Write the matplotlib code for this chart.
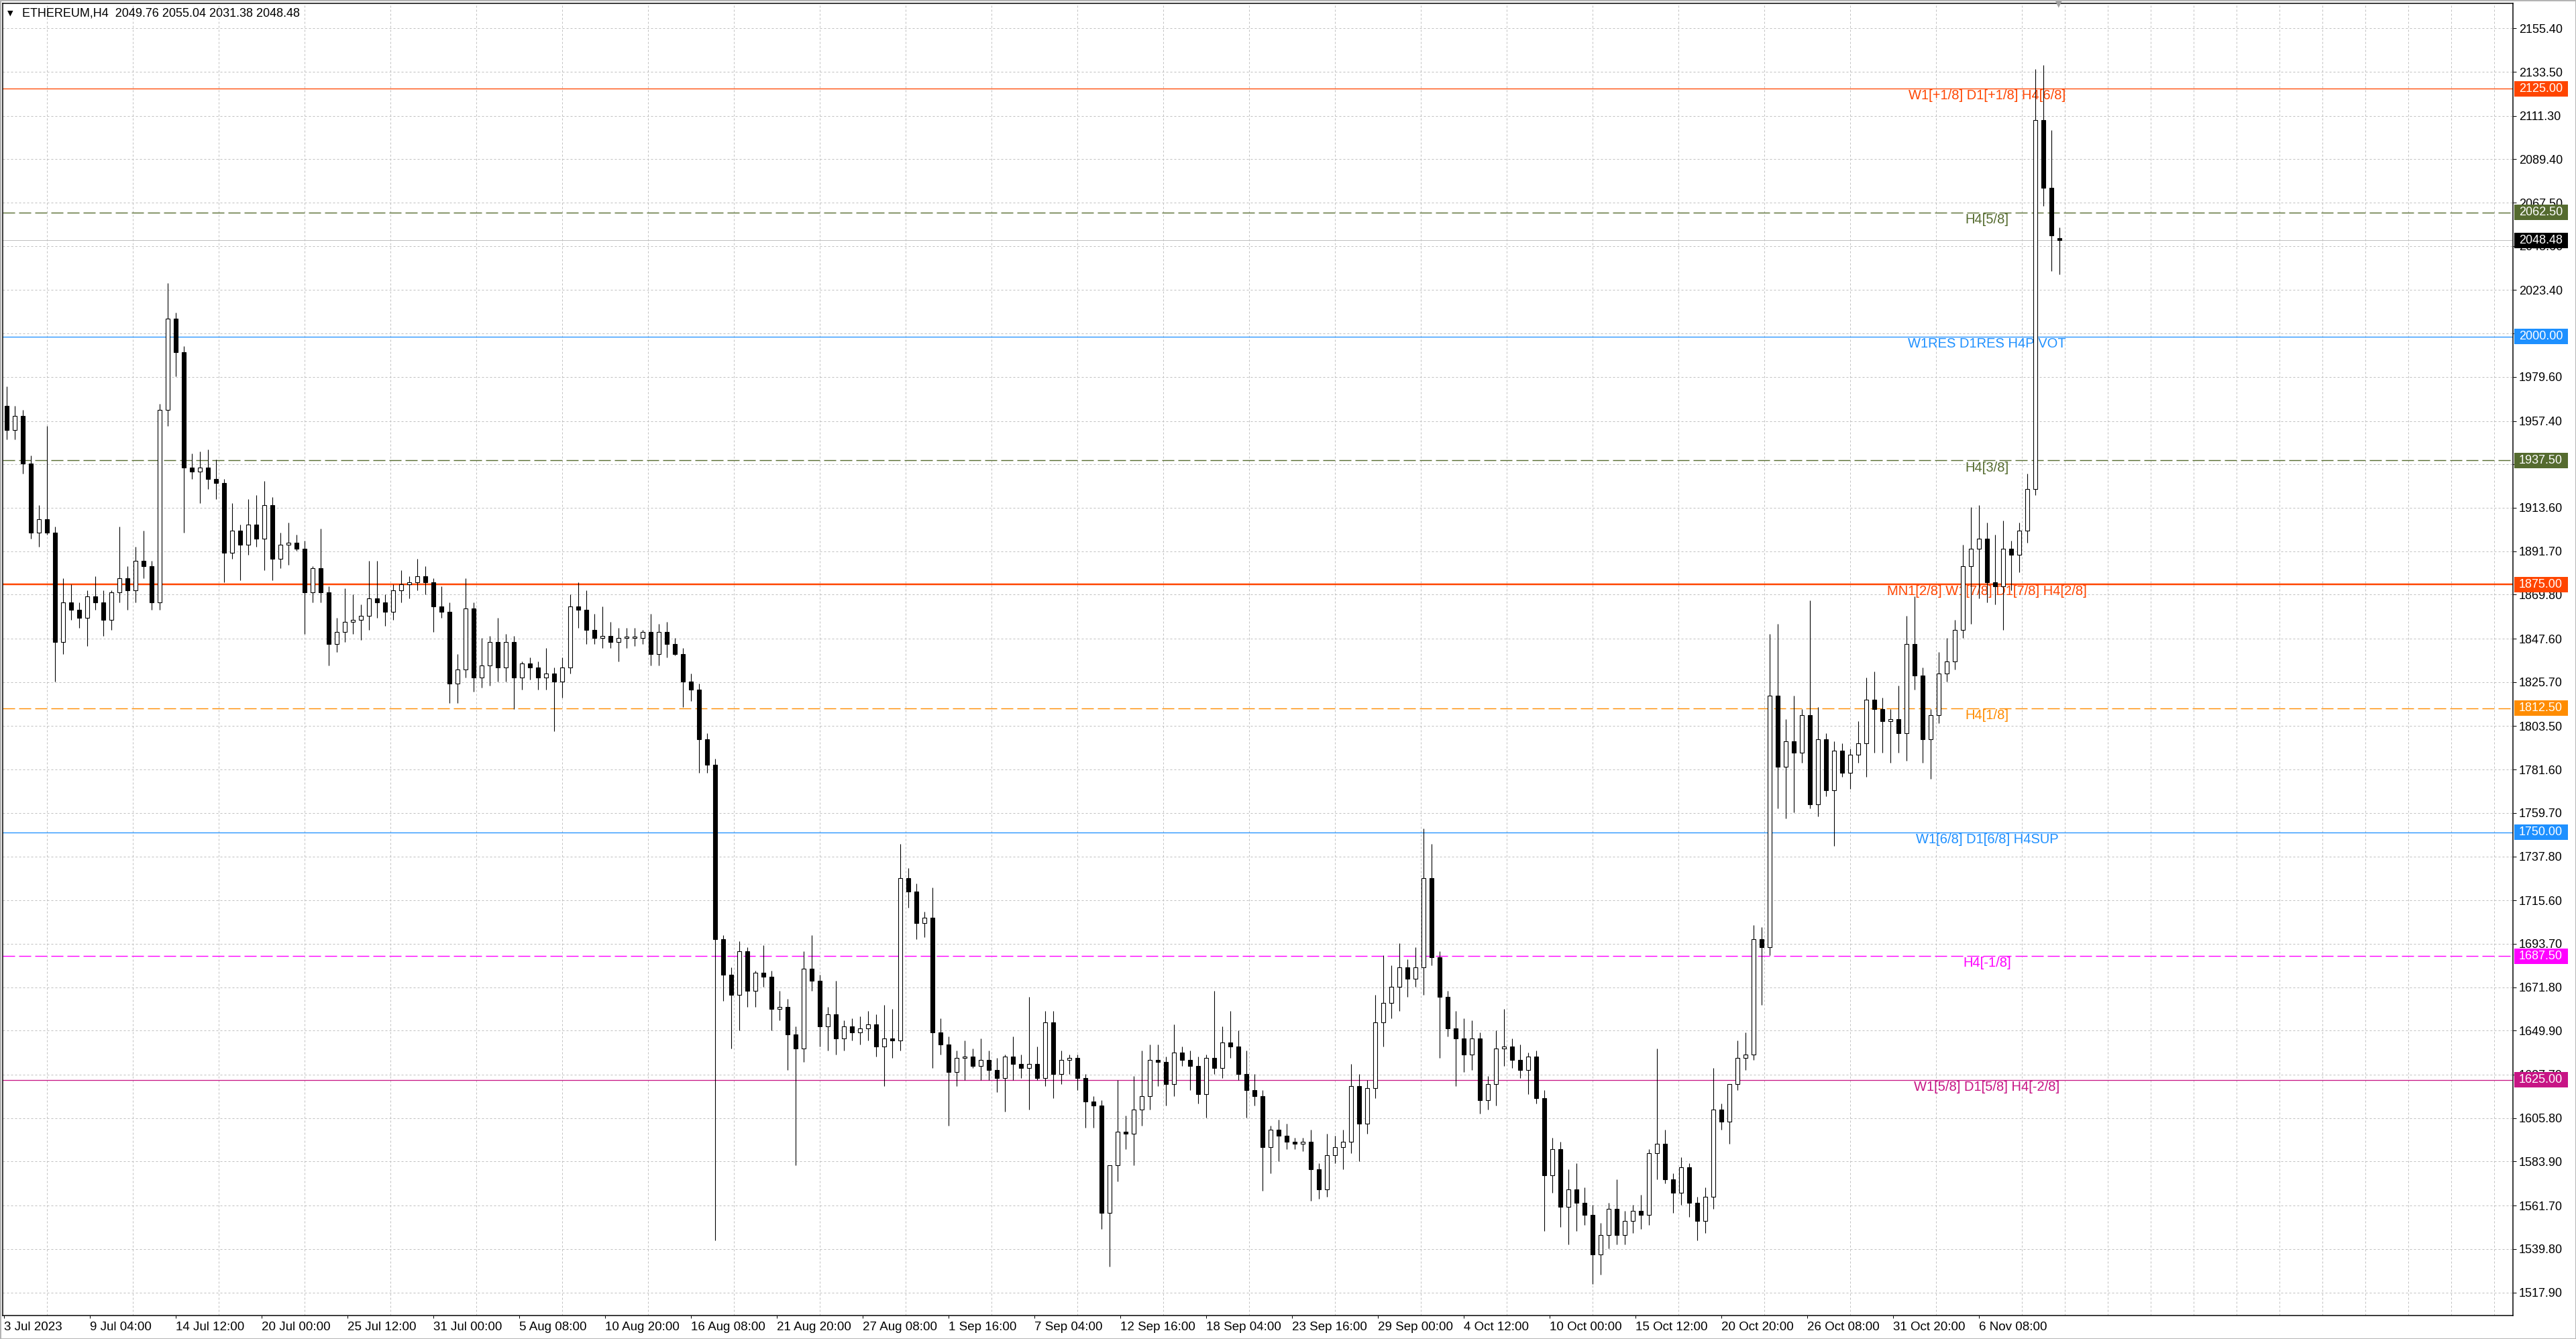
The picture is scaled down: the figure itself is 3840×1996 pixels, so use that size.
import matplotlib
matplotlib.use('Agg')
import matplotlib.pyplot as plt
from matplotlib import transforms
from matplotlib.patches import Rectangle

# ETHEREUM H4 chart, candles grouped by 12 hours (3 H4 bars each)
opens = [
    1965, 1953, 1960, 1936, 1901, 1908, 1901, 1846, 1866, 1862, 1858, 1869, 1866, 1857, 1871, 1878,
    1872, 1887, 1884, 1866, 1963, 2009, 1992, 1934, 1932, 1934, 1928, 1926, 1891, 1902, 1895, 1905,
    1898, 1915, 1888, 1895, 1896, 1893, 1871, 1883, 1871, 1845, 1851, 1856, 1857, 1859, 1868, 1866,
    1861, 1872, 1875, 1876, 1879, 1876, 1864, 1861, 1825, 1832, 1863, 1828, 1834, 1846, 1833, 1846,
    1828, 1835, 1833, 1828, 1830, 1826, 1833, 1864, 1862, 1852, 1848, 1849, 1846, 1848, 1848, 1848,
    1851, 1840, 1851, 1845, 1840, 1826, 1822, 1797, 1784, 1696, 1678, 1668, 1690, 1670, 1679, 1677,
    1661, 1662, 1648, 1641, 1681, 1675, 1652, 1658, 1646, 1652, 1649, 1651, 1653, 1642, 1646, 1645,
    1727, 1720, 1704, 1707, 1649, 1643, 1629, 1636, 1637, 1632, 1635, 1630, 1626, 1637, 1633, 1631,
    1633, 1626, 1654, 1628, 1635, 1636, 1626, 1614, 1612, 1558, 1582, 1599, 1598, 1610, 1617, 1635,
    1634, 1623, 1639, 1635, 1632, 1618, 1636, 1631, 1644, 1642, 1628, 1620, 1617, 1591, 1600, 1597,
    1594, 1593, 1594, 1580, 1570, 1587, 1591, 1594, 1622, 1603, 1621, 1654, 1664, 1672, 1682, 1676,
    1682, 1727, 1687, 1667, 1651, 1646, 1638, 1646, 1615, 1623, 1641, 1642, 1635, 1630, 1637, 1616,
    1577, 1590, 1561, 1570, 1563, 1557, 1537, 1547, 1560, 1547, 1554, 1559, 1557, 1588, 1593, 1575,
    1568, 1581, 1563, 1554, 1566, 1610, 1604, 1623, 1636, 1638, 1696, 1692, 1819, 1783, 1796, 1790,
    1809, 1764, 1797, 1771, 1791, 1780, 1789, 1795, 1817, 1812, 1806, 1807, 1800, 1845, 1829, 1797,
    1809, 1830, 1836, 1852, 1884, 1893, 1898, 1876, 1874, 1893, 1890, 1902, 1923, 2109, 2075, 2049.76,
]
highs = [
    1975, 1965, 1963, 1940, 1915, 1955, 1904, 1878, 1875, 1866, 1872, 1879, 1872, 1872, 1904, 1884,
    1894, 1902, 1887, 1966, 2027, 2012, 1995, 1941, 1942, 1943, 1938, 1928, 1916, 1905, 1918, 1920,
    1927, 1919, 1901, 1906, 1900, 1897, 1884, 1903, 1874, 1858, 1873, 1870, 1865, 1887, 1887, 1870,
    1875, 1882, 1879, 1888, 1884, 1878, 1874, 1866, 1840, 1878, 1866, 1848, 1849, 1858, 1850, 1849,
    1836, 1838, 1836, 1843, 1833, 1838, 1870, 1876, 1872, 1860, 1864, 1856, 1853, 1853, 1853, 1852,
    1860, 1855, 1856, 1848, 1843, 1830, 1825, 1800, 1787, 1698, 1682, 1695, 1692, 1680, 1693, 1680,
    1670, 1666, 1652, 1690, 1698, 1678, 1662, 1675, 1655, 1656, 1657, 1660, 1658, 1663, 1661, 1744,
    1732, 1724, 1710, 1722, 1656, 1647, 1640, 1645, 1641, 1646, 1640, 1636, 1638, 1647, 1638, 1667,
    1642, 1660, 1660, 1640, 1638, 1638, 1628, 1617, 1615, 1566, 1625, 1607, 1627, 1640, 1643, 1643,
    1637, 1653, 1642, 1640, 1637, 1638, 1670, 1652, 1660, 1650, 1640, 1628, 1620, 1602, 1605, 1603,
    1596, 1596, 1600, 1583, 1598, 1597, 1600, 1633, 1628, 1625, 1668, 1688, 1683, 1694, 1686, 1692,
    1752, 1744, 1690, 1670, 1660, 1656, 1655, 1649, 1627, 1650, 1661, 1646, 1643, 1639, 1640, 1620,
    1596, 1594, 1580, 1583, 1571, 1562, 1553, 1563, 1575, 1559, 1562, 1567, 1590, 1641, 1600, 1578,
    1586, 1583, 1566, 1571, 1631, 1613, 1623, 1645, 1649, 1703, 1702, 1850, 1855, 1807, 1819, 1812,
    1867, 1813, 1800, 1796, 1795, 1792, 1806, 1828, 1831, 1818, 1812, 1824, 1859, 1869, 1833, 1812,
    1841, 1848, 1857, 1895, 1914, 1915, 1906, 1900, 1907, 1897, 1906, 1931, 2135, 2137, 2104, 2055.04,
]
lows = [
    1948, 1948, 1931, 1898, 1894, 1900, 1826, 1840, 1857, 1853, 1844, 1862, 1849, 1852, 1866, 1862,
    1866, 1878, 1862, 1862, 1955, 1980, 1901, 1928, 1916, 1923, 1918, 1876, 1888, 1877, 1890, 1894,
    1882, 1877, 1883, 1885, 1892, 1850, 1866, 1866, 1834, 1841, 1846, 1850, 1847, 1852, 1858, 1854,
    1857, 1866, 1868, 1872, 1870, 1851, 1858, 1815, 1815, 1828, 1821, 1823, 1824, 1826, 1826, 1812,
    1822, 1827, 1822, 1822, 1801, 1818, 1830, 1853, 1845, 1845, 1843, 1843, 1836, 1843, 1844, 1845,
    1834, 1834, 1838, 1839, 1813, 1816, 1780, 1780, 1544, 1665, 1641, 1650, 1662, 1662, 1672, 1650,
    1655, 1630, 1582, 1634, 1670, 1642, 1640, 1638, 1640, 1645, 1643, 1645, 1637, 1622, 1636, 1640,
    1712, 1696, 1697, 1631, 1638, 1602, 1622, 1625, 1631, 1625, 1625, 1619, 1609, 1625, 1626, 1610,
    1625, 1622, 1616, 1623, 1628, 1620, 1601, 1601, 1550, 1531, 1574, 1590, 1582, 1602, 1610, 1622,
    1612, 1617, 1632, 1620, 1613, 1606, 1628, 1626, 1636, 1625, 1606, 1612, 1569, 1578, 1584, 1590,
    1590, 1589, 1564, 1565, 1566, 1583, 1580, 1588, 1584, 1598, 1616, 1642, 1656, 1660, 1667, 1672,
    1668, 1683, 1636, 1647, 1622, 1629, 1630, 1608, 1610, 1612, 1632, 1631, 1626, 1618, 1613, 1549,
    1568, 1551, 1542, 1549, 1552, 1522, 1527, 1540, 1542, 1542, 1548, 1550, 1552, 1575, 1573, 1558,
    1562, 1556, 1544, 1548, 1560, 1600, 1593, 1620, 1630, 1635, 1663, 1688, 1762, 1757, 1760, 1785,
    1762, 1758, 1768, 1743, 1778, 1772, 1785, 1778, 1790, 1790, 1785, 1790, 1786, 1822, 1785, 1777,
    1805, 1826, 1832, 1848, 1855, 1868, 1866, 1865, 1852, 1872, 1881, 1896, 1920, 2066, 2033, 2031.38,
]
closes = [
    1953, 1960, 1936, 1901, 1908, 1901, 1846, 1866, 1862, 1858, 1869, 1866, 1857, 1871, 1878, 1872,
    1887, 1884, 1866, 1963, 2009, 1992, 1934, 1932, 1934, 1928, 1926, 1891, 1902, 1895, 1905, 1898,
    1915, 1888, 1895, 1896, 1893, 1871, 1883, 1871, 1845, 1851, 1856, 1857, 1859, 1868, 1866, 1861,
    1872, 1875, 1876, 1879, 1876, 1864, 1861, 1825, 1832, 1863, 1828, 1834, 1846, 1833, 1846, 1828,
    1835, 1833, 1828, 1830, 1826, 1833, 1864, 1862, 1852, 1848, 1849, 1846, 1848, 1848, 1848, 1851,
    1840, 1851, 1845, 1840, 1826, 1822, 1797, 1784, 1696, 1678, 1668, 1690, 1670, 1679, 1677, 1661,
    1662, 1648, 1641, 1681, 1675, 1652, 1658, 1646, 1652, 1649, 1651, 1653, 1642, 1646, 1645, 1727,
    1720, 1704, 1707, 1649, 1643, 1629, 1636, 1637, 1632, 1635, 1630, 1626, 1637, 1633, 1631, 1633,
    1626, 1654, 1628, 1635, 1636, 1626, 1614, 1612, 1558, 1582, 1599, 1598, 1610, 1617, 1635, 1634,
    1623, 1639, 1635, 1632, 1618, 1636, 1631, 1644, 1642, 1628, 1620, 1617, 1591, 1600, 1597, 1594,
    1593, 1594, 1580, 1570, 1587, 1591, 1594, 1622, 1603, 1621, 1654, 1664, 1672, 1682, 1676, 1682,
    1727, 1687, 1667, 1651, 1646, 1638, 1646, 1615, 1623, 1641, 1642, 1635, 1630, 1637, 1616, 1577,
    1590, 1561, 1570, 1563, 1557, 1537, 1547, 1560, 1547, 1554, 1559, 1557, 1588, 1593, 1575, 1568,
    1581, 1563, 1554, 1566, 1610, 1604, 1623, 1636, 1638, 1696, 1692, 1819, 1783, 1796, 1790, 1809,
    1764, 1797, 1771, 1791, 1780, 1789, 1795, 1817, 1812, 1806, 1807, 1800, 1845, 1829, 1797, 1809,
    1830, 1836, 1852, 1884, 1893, 1898, 1876, 1874, 1893, 1890, 1902, 1923, 2109, 2075, 2051, 2048.48,
]

date_labels = [
    "3 Jul 2023", "9 Jul 04:00", "14 Jul 12:00", "20 Jul 00:00", "25 Jul 12:00", "31 Jul 00:00",
    "5 Aug 08:00", "10 Aug 20:00", "16 Aug 08:00", "21 Aug 20:00", "27 Aug 08:00", "1 Sep 16:00",
    "7 Sep 04:00", "12 Sep 16:00", "18 Sep 04:00", "23 Sep 16:00", "29 Sep 00:00", "4 Oct 12:00",
    "10 Oct 00:00", "15 Oct 12:00", "20 Oct 20:00", "26 Oct 08:00", "31 Oct 20:00", "6 Nov 08:00",
]
price_ticks = [
    2155.40, 2133.50, 2111.30, 2089.40, 2067.50, 2045.60, 2023.40, 2001.50, 1979.60, 1957.40,
    1935.50, 1913.60, 1891.70, 1869.80, 1847.60, 1825.70, 1803.50, 1781.60, 1759.70, 1737.80,
    1715.60, 1693.70, 1671.80, 1649.90, 1627.70, 1605.80, 1583.90, 1561.70, 1539.80, 1517.90,
]
hidden_tick = 1935.50  # sits fully under the 1937.50 badge

# murrey / pivot levels: price, text, colour, style
level_prices = [2125.0, 2062.5, 2000.0, 1937.5, 1875.0, 1812.5, 1750.0, 1687.5, 1625.0]
level_texts = [
    "W1[+1/8] D1[+1/8] H4[6/8]", "H4[5/8]", "W1RES D1RES H4PIVOT", "H4[3/8]",
    "MN1[2/8] W1[7/8] D1[7/8] H4[2/8]", "H4[1/8]", "W1[6/8] D1[6/8] H4SUP", "H4[-1/8]",
    "W1[5/8] D1[5/8] H4[-2/8]",
]
level_colors = ['#FF4500', '#556B2F', '#1E90FF', '#556B2F', '#FF4500',
                '#FF8C00', '#1E90FF', '#FF00FF', '#C71585']
level_dashed = [False, True, False, True, False, True, False, True, False]
level_widths = [1.3, 1.4, 1.3, 1.4, 2.5, 1.4, 1.3, 1.4, 1.3]
last_price = 2048.48

W, H, DPI = 3840, 1996, 100
PX = 72 / DPI  # points per pixel
plt.rcParams['lines.scale_dashes'] = False
plt.rcParams['font.family'] = ['Liberation Sans', 'DejaVu Sans']

fig = plt.figure(figsize=(W / DPI, H / DPI), dpi=DPI)
fig.patch.set_facecolor('white')
fig.patch.set_edgecolor('#b4b4b4')
fig.patch.set_linewidth(3 * PX)

ax_left, ax_right, ax_top, ax_bottom = 4, 3746, 4.5, 1960.8
ax = fig.add_axes([ax_left / W, 1 - ax_bottom / H, (ax_right - ax_left) / W, (ax_bottom - ax_top) / H])
ax.set_facecolor('white')

bar_px = 4.0  # one H4 bar = 4 px
ax.set_xlim(-0.5, -0.5 + (ax_right - ax_left) / bar_px)
ax.set_ylim(1506.3, 2168.2)

# grid
grid_ls = (0, (3 * PX, 3 * PX))
ax.set_xticks(range(0, 32 * len(date_labels), 32), labels=date_labels)
ax.set_xticks(range(0, 936, 16), minor=True)
ax.set_yticks(price_ticks, labels=['' if t == hidden_tick else '%.2f' % t for t in price_ticks])
ax.grid(True, which='minor', axis='x', color='#c0c0c0', lw=PX, ls=grid_ls)
ax.grid(True, which='major', axis='y', color='#c0c0c0', lw=PX, ls=grid_ls)
ax.set_axisbelow(True)

ax.yaxis.tick_right()
ax.tick_params(axis='y', which='major', length=5 * PX, width=PX, pad=4 * PX,
               labelsize=13, colors='black')
ax.tick_params(axis='x', which='major', length=4 * PX, width=PX, pad=5 * PX, labelsize=13.5)
ax.tick_params(axis='x', which='minor', length=0)
for lab in ax.get_xticklabels():
    lab.set_horizontalalignment('left')
for sp in ax.spines.values():
    sp.set_color('black')
    sp.set_linewidth(1.5 * PX)

# level lines and their labels
for p, txt, col, dashed, lw in zip(level_prices, level_texts, level_colors, level_dashed, level_widths):
    ax.axhline(p, color=col, lw=lw * PX, ls=(0, (18 * PX, 6 * PX)) if dashed else '-', zorder=1.5)
    ax.text(739, p - 0.4, txt, color=col, fontsize=14.5, ha='center', va='top', zorder=1.6)
ax.axhline(last_price, color='#c0c0c0', lw=PX, zorder=1.5)

# candles
xs = [3 * k + 1 for k in range(len(closes))]
ax.vlines(xs, lows, highs, color='black', lw=1.1 * PX, zorder=3)
bottoms = [min(o, c) for o, c in zip(opens, closes)]
heights = [max(abs(c - o), 0.5) for o, c in zip(opens, closes)]
faces = ['white' if c >= o else 'black' for o, c in zip(opens, closes)]
ax.bar(xs, heights, width=1.6, bottom=bottoms, color=faces, edgecolor='black',
       linewidth=1.1 * PX, zorder=4)

# price badges on the right scale
trans = transforms.blended_transform_factory(fig.transFigure, ax.transData)
y0, y1 = ax.get_ylim()
badge_h = 23 * (y1 - y0) / (ax_bottom - ax_top)
badges = list(zip(level_prices, level_colors)) + [(last_price, 'black')]
for p, col in badges:
    ax.add_patch(Rectangle((3748 / W, p - badge_h / 2), 80 / W, badge_h, transform=trans,
                           facecolor=col, edgecolor='none', clip_on=False, zorder=10))
    ax.text(3755 / W, p, '%.2f' % p, transform=trans, color='white', fontsize=13,
            ha='left', va='center', clip_on=False, zorder=11)

# header
fig.text(15 / W, 1 - 20 / H, '\u25bc', fontsize=8, color='black', ha='center', va='center',
         family='DejaVu Sans')
fig.text(33 / W, 1 - 20 / H, 'ETHEREUM,H4  2049.76 2055.04 2031.38 2048.48', fontsize=13,
         color='black', ha='left', va='center')
# chart shift marker
fig.text(3069 / W, 1 - 6 / H, '\u25bc', fontsize=9, color='#a0a0a0', ha='center', va='center',
         family='DejaVu Sans')

fig.savefig('out.png', dpi=DPI, facecolor=fig.get_facecolor(), edgecolor=fig.get_edgecolor())
